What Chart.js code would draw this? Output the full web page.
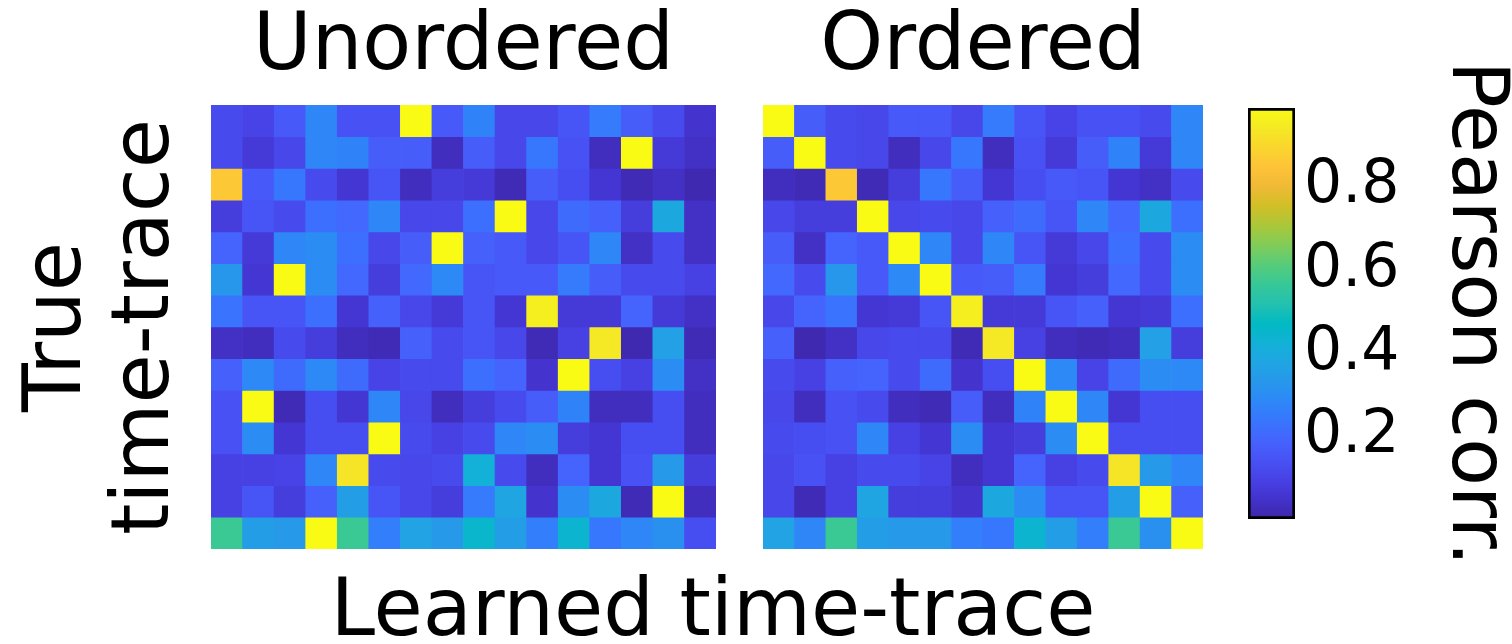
<!DOCTYPE html>
<html>
<head>
<meta charset="utf-8">
<script src="https://cdn.jsdelivr.net/npm/chart.js@4.4.0/dist/chart.umd.min.js"></script>
<style>
  body { margin: 0; background: #fff; width: 1512px; height: 644px; position: relative; overflow: hidden; font-family: 'DejaVu Sans'; }
  canvas { position: absolute; top: 0; }
  #xlabel { position: absolute; left: 0; top: 568px; width: 1426px; text-align: center; font-size: 80px; line-height: 80px; color: #000; }
</style>
</head>
<body>
<canvas id="unordered" width="716" height="549" style="left:0"></canvas>
<canvas id="ordered" width="463" height="549" style="left:740px"></canvas>
<canvas id="colorbar" width="292" height="644" style="left:1220px"></canvas>
<div id="xlabel">Learned time-trace</div>
<script>
const trueTraces = ['T1', 'T2', 'T3', 'T4', 'T5', 'T6', 'T7', 'T8', 'T9', 'T10', 'T11', 'T12', 'T13', 'T14'];
const learnedTraces = ['L1', 'L2', 'L3', 'L4', 'L5', 'L6', 'L7', 'L8', 'L9', 'L10', 'L11', 'L12', 'L13', 'L14', 'L15', 'L16'];

// Pearson correlation, rows = true traces, columns = learned traces (unordered)
const unorderedCorr = [
  [0.12, 0.10, 0.16, 0.28, 0.14, 0.14, 0.99, 0.16, 0.27, 0.11, 0.11, 0.15, 0.25, 0.17, 0.12, 0.05],
  [0.12, 0.07, 0.11, 0.28, 0.27, 0.17, 0.17, 0.03, 0.17, 0.11, 0.24, 0.14, 0.03, 0.99, 0.07, 0.04],
  [0.86, 0.16, 0.24, 0.12, 0.06, 0.15, 0.03, 0.08, 0.07, 0.02, 0.17, 0.13, 0.06, 0.02, 0.04, 0.01],
  [0.08, 0.15, 0.12, 0.22, 0.20, 0.28, 0.11, 0.11, 0.22, 0.99, 0.11, 0.21, 0.18, 0.08, 0.39, 0.04],
  [0.19, 0.07, 0.28, 0.30, 0.22, 0.11, 0.17, 0.99, 0.18, 0.16, 0.11, 0.15, 0.28, 0.04, 0.12, 0.04],
  [0.33, 0.06, 0.99, 0.30, 0.20, 0.08, 0.20, 0.29, 0.15, 0.16, 0.16, 0.25, 0.17, 0.12, 0.12, 0.09],
  [0.23, 0.15, 0.15, 0.22, 0.06, 0.18, 0.11, 0.07, 0.15, 0.06, 0.96, 0.07, 0.07, 0.19, 0.07, 0.04],
  [0.04, 0.03, 0.12, 0.08, 0.03, 0.02, 0.18, 0.12, 0.15, 0.11, 0.02, 0.09, 0.94, 0.01, 0.36, 0.02],
  [0.18, 0.29, 0.21, 0.29, 0.21, 0.10, 0.12, 0.12, 0.22, 0.19, 0.05, 0.99, 0.13, 0.09, 0.30, 0.04],
  [0.14, 0.99, 0.02, 0.13, 0.06, 0.28, 0.11, 0.03, 0.08, 0.12, 0.17, 0.27, 0.03, 0.03, 0.13, 0.03],
  [0.14, 0.30, 0.06, 0.13, 0.13, 0.99, 0.12, 0.09, 0.12, 0.28, 0.30, 0.08, 0.06, 0.13, 0.13, 0.03],
  [0.09, 0.09, 0.10, 0.28, 0.93, 0.12, 0.11, 0.12, 0.42, 0.12, 0.03, 0.19, 0.06, 0.14, 0.34, 0.08],
  [0.09, 0.15, 0.08, 0.18, 0.35, 0.15, 0.11, 0.08, 0.25, 0.38, 0.05, 0.30, 0.39, 0.02, 0.99, 0.03],
  [0.57, 0.35, 0.34, 0.99, 0.57, 0.26, 0.37, 0.34, 0.45, 0.35, 0.26, 0.44, 0.24, 0.28, 0.31, 0.13]
];

// learned trace matched to each true trace (column index into unorderedCorr)
const orderedCols = [6, 13, 0, 9, 7, 2, 10, 12, 11, 1, 5, 4, 14, 3];

const cbTicks = [0.2, 0.4, 0.6, 0.8];
const cMin = 0;
const cMax = 0.99;

// parula colormap, evenly spaced stops
const parulaStops = [
  [0.2422, 0.1504, 0.6603], [0.2647, 0.1978, 0.7952], [0.2783, 0.2559, 0.8991], [0.2810, 0.3228, 0.9579],
  [0.2699, 0.3892, 0.9906], [0.2206, 0.4603, 0.9973], [0.1786, 0.5289, 0.9682], [0.1540, 0.5902, 0.9218],
  [0.1248, 0.6459, 0.8883], [0.0689, 0.6948, 0.8394], [0.0067, 0.7312, 0.7660], [0.1408, 0.7584, 0.6842],
  [0.2161, 0.7843, 0.5923], [0.3406, 0.8008, 0.4789], [0.5044, 0.7993, 0.3480], [0.6720, 0.7793, 0.2227],
  [0.8203, 0.7498, 0.1535], [0.9393, 0.7288, 0.2100], [0.9970, 0.7659, 0.2199], [0.9786, 0.8386, 0.1766],
  [0.9597, 0.9135, 0.1423], [0.9769, 0.9839, 0.0805]
];

const rgb = c => `rgb(${Math.round(c[0] * 255)},${Math.round(c[1] * 255)},${Math.round(c[2] * 255)})`;

const parula = v => {
  let t = (v - cMin) / (cMax - cMin);
  t = Math.max(0, Math.min(1, t)) * (parulaStops.length - 1);
  const i = Math.min(Math.floor(t), parulaStops.length - 2);
  const f = t - i;
  const a = parulaStops[i], b = parulaStops[i + 1];
  return rgb([0, 1, 2].map(k => a[k] + (b[k] - a[k]) * f));
};

Chart.defaults.font.family = 'DejaVu Sans';
Chart.defaults.color = '#000';

function heatmap(canvasId, title, labels, matrix, yTitle, padLeft) {
  return new Chart(document.getElementById(canvasId), {
    type: 'bar',
    data: {
      labels: labels,
      datasets: matrix.map((row, r) => ({
        label: trueTraces[r],
        data: row.map(() => [r, r + 1]),
        backgroundColor: row.map(parula)
      }))
    },
    options: {
      responsive: false,
      animation: false,
      events: [],
      layout: { padding: { left: padLeft } },
      datasets: { bar: { grouped: false, barPercentage: 1, categoryPercentage: 1, borderWidth: 0 } },
      plugins: {
        legend: { display: false },
        tooltip: { enabled: false },
        title: {
          display: true, text: title, fullSize: false,
          font: { size: 80, weight: 'normal' }, color: '#000',
          padding: { top: 0, bottom: 9 }
        }
      },
      scales: {
        x: { display: false },
        y: {
          display: !!yTitle,
          min: 0, max: trueTraces.length, reverse: true,
          ticks: { display: false },
          grid: { display: false, drawTicks: false },
          border: { display: false },
          title: {
            display: !!yTitle, text: yTitle, color: '#000',
            font: { size: 80, lineHeight: 1.1 },
            padding: { top: 15, bottom: 20 }
          }
        }
      }
    }
  });
}

heatmap('unordered', 'Unordered', learnedTraces, unorderedCorr, ['True', 'time-trace'], 0);
heatmap('ordered', 'Ordered',
  orderedCols.map(c => learnedTraces[c]),
  unorderedCorr.map(row => orderedCols.map(c => row[c])),
  null, 23);

const cbFill = (ctx) => {
  const chart = ctx.chart;
  if (!chart.chartArea) return null;
  const y = chart.scales.y;
  const g = chart.ctx.createLinearGradient(0, y.getPixelForValue(cMin), 0, y.getPixelForValue(cMax));
  parulaStops.forEach((c, i) => g.addColorStop(i / (parulaStops.length - 1), rgb(c)));
  return g;
};

new Chart(document.getElementById('colorbar'), {
  type: 'bar',
  data: {
    labels: ['Pearson corr.'],
    datasets: [{
      data: [[cMin, cMax]],
      backgroundColor: cbFill,
      borderColor: '#000',
      borderWidth: 3,
      borderSkipped: false,
      barPercentage: 1,
      categoryPercentage: 1
    }]
  },
  options: {
    responsive: false,
    animation: false,
    events: [],
    layout: { padding: { left: 28, top: 108, bottom: 125 } },
    plugins: { legend: { display: false }, tooltip: { enabled: false } },
    scales: {
      x: { display: false },
      y: {
        position: 'right',
        min: cMin, max: cMax,
        afterBuildTicks: s => { s.ticks = cbTicks.map(v => ({ value: v })); },
        // the colorbar is much narrower than its axis, so lift the layout width cap
        afterFit: s => { s.width = 217; },
        ticks: { font: { size: 60 }, color: '#000', padding: 9, callback: v => v.toFixed(1) },
        grid: { display: false, drawTicks: false },
        border: { display: false },
        title: {
          display: true, text: 'Pearson corr.', color: '#000',
          font: { size: 78, lineHeight: 1 },
          padding: { top: 0, bottom: 35 }
        }
      }
    }
  }
});
</script>
</body>
</html>
